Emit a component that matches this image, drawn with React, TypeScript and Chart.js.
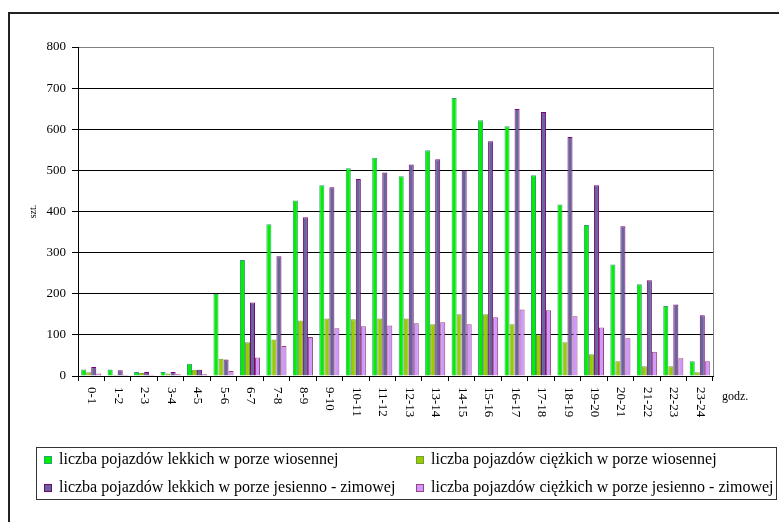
import React, { useEffect, useRef } from "react";
import { Chart, registerables } from "chart.js";

Chart.register(...registerables);

const SERIF = '"Liberation Serif", "Times New Roman", serif';

// hour intervals on the x axis
const hours = [
  "0-1", "1-2", "2-3", "3-4", "4-5", "5-6", "6-7", "7-8", "8-9", "9-10",
  "10-11", "11-12", "12-13", "13-14", "14-15", "15-16", "16-17", "17-18",
  "18-19", "19-20", "20-21", "21-22", "22-23", "23-24",
];

// vehicle counts per hour (szt.)
const lightSpring = [16, 16, 10, 10, 30, 200, 282, 369, 427, 464, 505, 531, 486, 549, 676, 622, 607, 488, 417, 367, 271, 223, 170, 36];
const heavySpring = [9, 3, 7, 6, 15, 42, 82, 89, 135, 140, 138, 140, 140, 126, 150, 150, 126, 101, 82, 53, 36, 24, 24, 9];
const lightAutumn = [22, 14, 10, 10, 15, 40, 179, 291, 386, 459, 479, 495, 514, 527, 500, 571, 649, 642, 581, 464, 364, 233, 174, 148];
const heavyAutumn = [6, 3, 3, 4, 4, 12, 45, 73, 95, 116, 121, 123, 128, 131, 126, 143, 162, 160, 145, 118, 92, 59, 43, 36];

const seriesLabels = [
  "liczba pojazdów lekkich w porze wiosennej",
  "liczba pojazdów ciężkich w porze wiosennej",
  "liczba pojazdów lekkich w porze jesienno - zimowej",
  "liczba pojazdów ciężkich w porze jesienno - zimowej",
];

const yTicks = [0, 100, 200, 300, 400, 500, 600, 700, 800];

const fills = ["#00f000", "#99cc00", "#666699", "#cc99ff"];
const borders = ["#2f9f72", "#6f9f3a", "#800080", "#a0407a"];

const decorPlugin = {
  id: "decor",
  afterDraw(chart: any) {
    const { ctx, chartArea } = chart;
    const xScale = chart.scales.x;
    ctx.save();

    // plot area right border
    ctx.strokeStyle = "#808080";
    ctx.lineWidth = 1;
    const rx = Math.round(chartArea.right) + 0.5;
    ctx.beginPath();
    ctx.moveTo(rx, Math.round(chartArea.top));
    ctx.lineTo(rx, Math.round(chartArea.bottom));
    ctx.stroke();

    // hour labels, rotated clockwise
    ctx.fillStyle = "#000";
    ctx.font = `13px ${SERIF}`;
    ctx.textAlign = "left";
    ctx.textBaseline = "middle";
    hours.forEach((h, i) => {
      const px = xScale.getPixelForTick(i);
      ctx.save();
      ctx.translate(px + 0.5, chartArea.bottom + 11);
      ctx.rotate(Math.PI / 2);
      ctx.fillText(h, 0, 0);
      ctx.restore();
    });

    // x unit
    ctx.font = `12px ${SERIF}`;
    ctx.fillText("godz.", chartArea.right + 9, chartArea.bottom + 21);

    // legend box
    const lx = 36.5;
    const ly = 447.5;
    ctx.strokeStyle = "#333";
    ctx.strokeRect(lx, ly, 740, 52);
    ctx.font = `16px ${SERIF}`;
    const cols = [44, 416];
    const rows = [460, 488];
    chart.data.datasets.forEach((ds: any, i: number) => {
      const cx = cols[i % 2];
      const cy = rows[Math.floor(i / 2)];
      ctx.fillStyle = ds.backgroundColor;
      ctx.fillRect(cx, cy - 4, 7, 7);
      ctx.strokeStyle = ds.borderColor;
      ctx.strokeRect(cx + 0.5, cy - 3.5, 7, 7);
      ctx.fillStyle = "#000";
      ctx.fillText(ds.label, cx + 15, cy);
    });

    ctx.restore();
  },
};

export default function App() {
  const canvasRef = useRef<HTMLCanvasElement>(null);

  useEffect(() => {
    const canvas = canvasRef.current;
    if (!canvas) return;
    const series = [lightSpring, heavySpring, lightAutumn, heavyAutumn];
    const chart = new Chart(canvas, {
      type: "bar",
      data: {
        labels: hours,
        datasets: series.map((values, i) => ({
          label: seriesLabels[i],
          data: values,
          backgroundColor: fills[i],
          borderColor: borders[i],
          borderWidth: 1,
          barPercentage: 1,
          categoryPercentage: 0.76,
        })),
      },
      options: {
        responsive: false,
        devicePixelRatio: 1,
        animation: false,
        layout: { padding: { left: 8, top: 47, right: 66, bottom: 106 } },
        plugins: {
          legend: { display: false },
          tooltip: { enabled: false },
        },
        scales: {
          x: {
            type: "category",
            offset: true,
            afterFit: (scale: any) => {
              scale.height = 40;
            },
            grid: {
              offset: true,
              drawOnChartArea: false,
              drawTicks: true,
              tickLength: 5,
              color: "#000",
            },
            border: { display: true, color: "#000", width: 1 },
            ticks: { display: false },
          },
          y: {
            min: 0,
            max: 800,
            afterFit: (scale: any) => {
              scale.width = 70;
            },
            afterBuildTicks: (scale: any) => {
              scale.ticks = yTicks.map((v) => ({ value: v }));
            },
            grid: {
              color: (c: any) => (c.tick && c.tick.value === 800 ? "#808080" : "#000"),
              tickLength: 6,
              tickColor: "#000",
            },
            border: { display: true, color: "#000", width: 1 },
            ticks: {
              padding: 6,
              color: "#000",
              font: { family: SERIF, size: 13 },
            },
            title: {
              display: true,
              text: "szt.",
              color: "#000",
              font: { family: SERIF, size: 10 },
              padding: { top: 19, bottom: 0 },
            },
          },
        },
      },
      plugins: [decorPlugin],
    });
    return () => chart.destroy();
  }, []);

  return (
    <div
      style={{
        position: "fixed",
        left: 0,
        top: 0,
        width: 779,
        height: 522,
        overflow: "hidden",
        background: "#fff",
      }}
    >
      <div
        style={{
          position: "absolute",
          left: 8,
          top: 12,
          width: 900,
          height: 700,
          borderLeft: "2px solid #222",
          borderTop: "2px solid #222",
        }}
      />
      <canvas
        ref={canvasRef}
        width={779}
        height={522}
        style={{ position: "absolute", left: 0, top: 0, display: "block" }}
      />
    </div>
  );
}
